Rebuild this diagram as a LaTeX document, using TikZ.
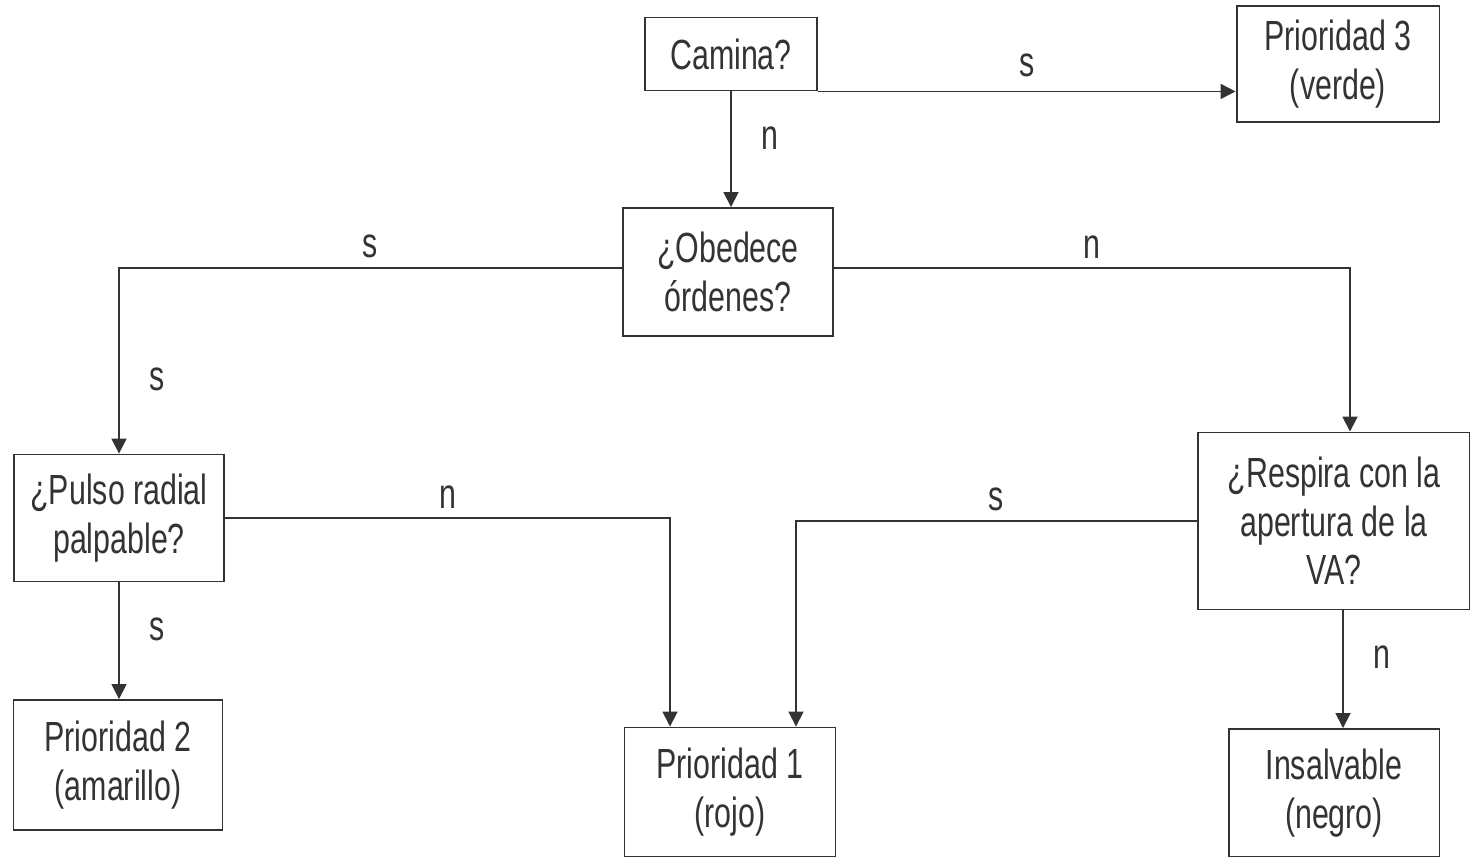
\documentclass[tikz,border=0pt]{standalone}
\usepackage{fontspec}
\setmainfont{Liberation Sans}[FakeStretch=0.72]
\usetikzlibrary{positioning, arrows.meta}
\colorlet{ink}{black!80}
\tikzset{
every node/.style = {text = ink, font = \fontsize{24}{27.5}\selectfont},
box/.style = {rectangle, draw = ink, line width = 1.1pt, inner sep = 2pt,
   align = center},
decision/.style = {-{Triangle[length = 3mm, width = 3mm]}, draw = ink,
   line width = 1pt},
answer/.style = {inner sep = 2pt}
}
\begin{document}
\begin{tikzpicture}[x = 0.02cm, y = -0.02cm]
\useasboundingbox (0,0) rectangle (1470,857);

%% Questions
\node [box, minimum width = 3.44cm, minimum height = 1.46cm] (camina) at (731,54) {Camina?};
\node [box, minimum width = 4.2cm, minimum height = 2.56cm] (obedece) at (728,272) {¿Obedece\\órdenes?};
\node [box, minimum width = 4.2cm, minimum height = 2.54cm] (pulso) at (119,518) {¿Pulso radial\\palpable?};
\node [box, minimum width = 5.44cm, minimum height = 3.54cm] (respira) at (1334,521) {¿Respira con la\\apertura de la\\VA?};

%% Priorities
\node [box, minimum width = 4.06cm, minimum height = 2.32cm] (verde) at (1338,64) {Prioridad 3\\(verde)};
\node [box, minimum width = 4.18cm, minimum height = 2.6cm] (amarillo) at (118,765) {Prioridad 2\\(amarillo)};
\node [box, minimum width = 4.22cm, minimum height = 2.58cm] (rojo) at (730,792) {Prioridad 1\\(rojo)};
\node [box, minimum width = 4.22cm, minimum height = 2.56cm] (negro) at (1334,793) {Insalvable\\(negro)};

%% Connectors
\draw [decision] (camina.south east) -- node [answer, above = 6pt] {s} (camina.south east -| verde.west);
\draw [decision] (camina.south) -- node [answer, pos = 0.4, right = 15pt] {n} (camina.south |- obedece.north);
\draw [decision] ([yshift = 0.08cm]obedece.west) -| node [answer, pos = 0.25, above = 3pt] {s}
   node [answer, pos = 0.8, right = 15pt] {s} (pulso.north);
\draw [decision] ([yshift = 0.08cm]obedece.east) -| node [answer, pos = 0.25, above = 3pt] {n} ([xshift = 0.32cm]respira.north);
\draw [decision] (pulso.east) -| node [answer, pos = 0.25, above = 3pt] {n} ([xshift = -1.2cm]rojo.north);
\draw [decision] (respira.west) -| node [answer, pos = 0.25, above = 3pt] {s} ([xshift = 1.32cm]rojo.north);
\draw [decision] (pulso.south) -- node [answer, pos = 0.4, right = 15pt] {s} (pulso.south |- amarillo.north);
\draw [decision] ([xshift = 0.18cm]respira.south) -- node [answer, pos = 0.4, right = 15pt] {n} ([xshift = 0.18cm]respira.south |- negro.north);

\end{tikzpicture}
\end{document}
